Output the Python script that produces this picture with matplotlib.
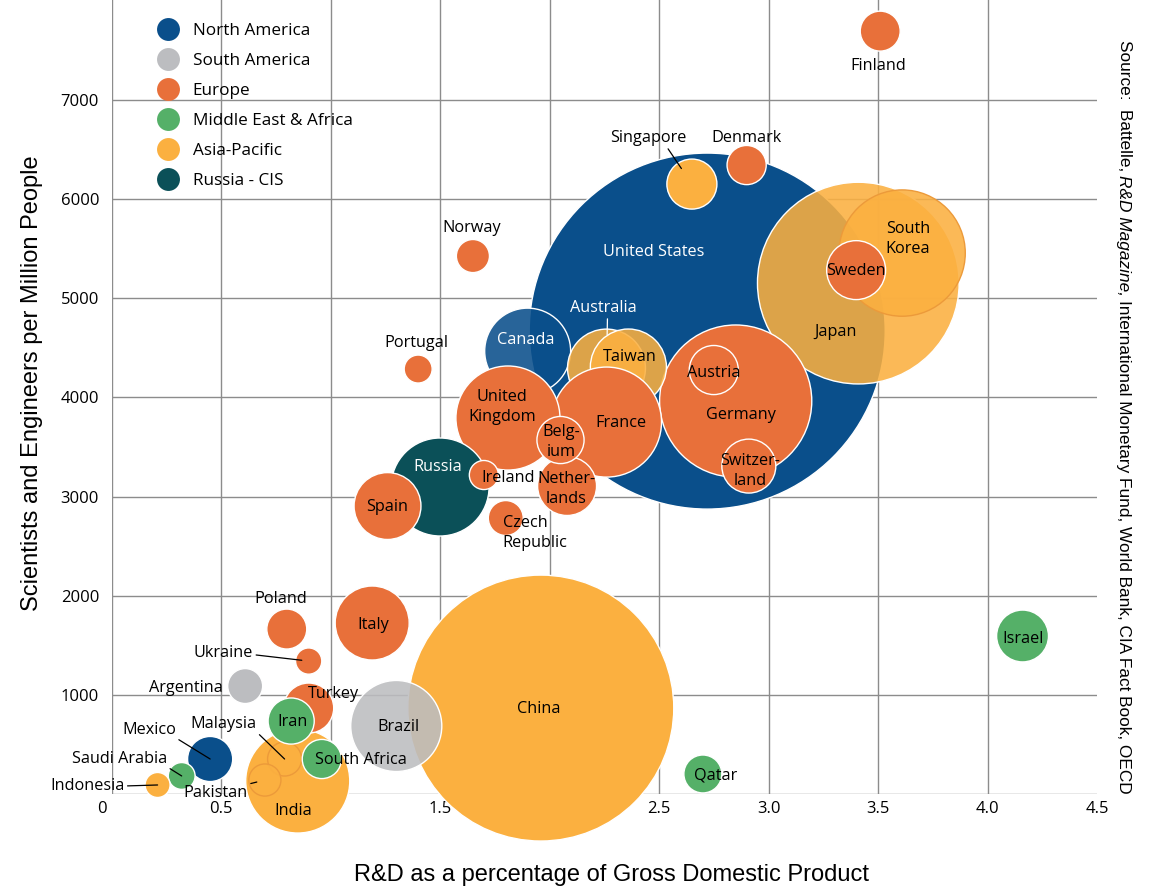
import matplotlib
matplotlib.use("Agg")
import numpy as np
import matplotlib.pyplot as plt
from matplotlib.colors import to_rgba
from matplotlib.lines import Line2D

plt.rcParams["font.family"] = ["Open Sans", "DejaVu Sans"]

# data, listed in drawing order (back to front)
countries = ["United States", "China", "Japan", "Germany", "South Korea", "Canada",
             "Australia", "Taiwan", "France", "United Kingdom", "India", "Russia",
             "Brazil", "Italy", "Spain", "Sweden", "Netherlands", "Switzerland",
             "Israel", "Singapore", "Turkey", "Austria", "Belgium", "Malaysia", "Iran",
             "Mexico", "Finland", "Poland", "Denmark", "South Africa", "Qatar",
             "Czech Republic", "Argentina", "Norway", "Pakistan", "Ireland",
             "Portugal", "Saudi Arabia", "Ukraine", "Indonesia"]
rd_pct_gdp = [2.72, 1.96, 3.41, 2.85, 3.61, 1.90, 2.26, 2.36, 2.26, 1.81, 0.85, 1.50,
              1.30, 1.19, 1.26, 3.40, 2.08, 2.91, 4.16, 2.65, 0.90, 2.75, 2.05, 0.79,
              0.82, 0.45, 3.51, 0.80, 2.90, 0.96, 2.70, 1.80, 0.61, 1.65, 0.70, 1.70,
              1.40, 0.32, 0.90, 0.21]
sci_per_million = [4670, 867, 5154, 3964, 5457, 4468, 4297, 4307, 3752, 3793, 131, 3097,
                   686, 1725, 2905, 5285, 3107, 3308, 1594, 6153, 867, 4277, 3571, 353,
                   736, 353, 7696, 1664, 6345, 353, 202, 2784, 1089, 5427, 141, 3218,
                   4287, 182, 1341, 91]
rd_spend = [405, 226, 130, 74, 51, 23.6, 19.4, 18.5, 38.7, 34.6, 34.6, 30.7,
            26.5, 17.5, 14.3, 11.1, 11.1, 9.3, 8.6, 8.0, 8.0, 7.7, 7.1, 3.7,
            6.8, 6.5, 5.1, 5.1, 4.9, 4.9, 4.6, 3.9, 3.9, 3.5, 3.3, 2.7,
            2.5, 2.3, 2.2, 2.0]
region = ["North America", "Asia-Pacific", "Asia-Pacific", "Europe", "Asia-Pacific",
          "North America", "Asia-Pacific", "Asia-Pacific", "Europe", "Europe",
          "Asia-Pacific", "Russia - CIS", "South America", "Europe", "Europe", "Europe",
          "Europe", "Europe", "Middle East & Africa", "Asia-Pacific", "Europe", "Europe",
          "Europe", "Asia-Pacific", "Middle East & Africa", "North America", "Europe",
          "Europe", "Europe", "Middle East & Africa", "Middle East & Africa", "Europe",
          "South America", "Europe", "Asia-Pacific", "Europe", "Europe",
          "Middle East & Africa", "Europe", "Asia-Pacific"]

regions = ["North America", "South America", "Europe", "Middle East & Africa",
           "Asia-Pacific", "Russia - CIS"]
region_colors = {
    "North America": "#0a4f8b",
    "South America": "#bcbdc0",
    "Europe": "#e8703a",
    "Middle East & Africa": "#55b068",
    "Asia-Pacific": "#fbb040",
    "Russia - CIS": "#0b5058",
}

x_ticks = [0, 0.5, 1.0, 1.5, 2.0, 2.5, 3.0, 3.5, 4.0, 4.5]
y_ticks = [0, 1000, 2000, 3000, 4000, 5000, 6000, 7000]

source_parts = [("Source:  Battelle,", "normal"), ("R&D Magazine,", "italic"),
                ("International Monetary Fund, World Bank, CIA Fact Book, OECD", "normal")]

# label layout (pixel offsets from bubble centre)
display_name = {"South Korea": "South\nKorea", "United Kingdom": "United\nKingdom",
                "Netherlands": "Nether-\nlands", "Switzerland": "Switzer-\nland",
                "Belgium": "Belg-\nium", "Czech Republic": "Czech\nRepublic"}
label_offset = {
    "United States": (-54, 81), "China": (-2, 1), "Japan": (-23, -47),
    "Germany": (5, -12), "South Korea": (6, 16), "Canada": (-2, 13),
    "Australia": (-3, 62), "Taiwan": (1, 12), "France": (14, 1),
    "United Kingdom": (-6, 13), "India": (-4, -28), "Russia": (-2, 22),
    "Brazil": (2, 1), "Italy": (1, 0), "Spain": (0, 1), "Sweden": (0, 1),
    "Netherlands": (-1, -1), "Switzerland": (1, -3), "Israel": (1, -1),
    "Singapore": (-44, 48), "Turkey": (25, 16), "Austria": (0, -1),
    "Belgium": (1, 0), "Malaysia": (-61, 37), "Iran": (1, 1), "Mexico": (-61, 31),
    "Finland": (-2, -33), "Poland": (-6, 32), "Denmark": (0, 29),
    "South Africa": (39, 1), "Qatar": (13, 0), "Czech Republic": (-3, -13),
    "Argentina": (-59, 0), "Norway": (-1, 30), "Pakistan": (-49, -11),
    "Ireland": (24, -1), "Portugal": (-2, 28), "Saudi Arabia": (-62, 19),
    "Ukraine": (-85, 10), "Indonesia": (-70, 1),
}
# leader lines: relpos on text box, shrink at bubble end (points)
leaders = {
    "Singapore": ((0.74, 0), 13.5), "Australia": ((0.56, 0), 24),
    "Ukraine": ((1, 0.4), 5), "Mexico": ((1, 0), 0), "Malaysia": ((1, 0), 0),
    "Saudi Arabia": ((1, 0), 0), "Indonesia": ((1, 0.5), 0), "Pakistan": ((0.95, 1), 6),
}
white_text = {"United States", "Canada", "Australia", "Russia"}
dark_edge = {"South Korea", "Malaysia", "Pakistan"}
see_through = {"Japan", "South Korea", "Canada", "Australia", "Taiwan", "Brazil",
               "Malaysia", "Pakistan"}

fig = plt.figure(figsize=(11.53, 8.9), dpi=100)
ax = fig.add_axes([111.6 / 1153, 96 / 890, 985.4 / 1153, 794 / 890])
ax.set_xlim(0, 4.5)
ax.set_ylim(0, 8010)
ax.set_axisbelow(True)

# bubble radius in pixels ~ sqrt(spending), US ~178 px
radius_px = 178 * np.sqrt(np.array(rd_spend) / max(rd_spend))
sizes = (2 * radius_px * 0.72) ** 2
colors = [to_rgba(region_colors[r], 0.88 if c in see_through else 1.0)
          for c, r in zip(countries, region)]
edges = ["#ec9a3a" if c in dark_edge else "white" for c in countries]
ax.scatter(rd_pct_gdp, sci_per_million, s=sizes, c=colors,
           edgecolors=edges, linewidths=1.0, clip_on=False, zorder=2)

for i, name in enumerate(countries):
    dx, dy = label_offset[name]
    tc = "white" if name in white_text else "black"
    ha = "left" if name == "Czech Republic" else "center"
    kw = {}
    if name in leaders:
        relpos, shrink = leaders[name]
        kw["arrowprops"] = dict(arrowstyle="-", color=tc, lw=0.9, shrinkA=0,
                                shrinkB=shrink, relpos=relpos)
    ax.annotate(display_name.get(name, name), xy=(rd_pct_gdp[i], sci_per_million[i]),
                xytext=(dx, dy - 2), textcoords="offset pixels", ha=ha, va="center",
                multialignment=ha, fontsize=11.7, color=tc, linespacing=1.35,
                zorder=5, annotation_clip=False, **kw)

ax.set_xticks(x_ticks, labels=["" if v == 0 else f"{v:.1f}" for v in x_ticks])
ax.set_yticks(y_ticks, labels=["" if v == 0 else str(v) for v in y_ticks])
ax.tick_params(axis="both", length=0, labelsize=12)
ax.tick_params(axis="x", pad=5)
ax.tick_params(axis="y", pad=9)
ax.grid(True, color="#8c8c8c", linewidth=1.0)
ax.get_xgridlines()[-1].set_visible(False)
for sp in ax.spines.values():
    sp.set_visible(False)
# the origin label sits a little left of the corner
ax.annotate("0", xy=(0, 0), xytext=(-10, -7), textcoords="offset pixels",
            ha="center", va="top", fontsize=12, zorder=0.5, annotation_clip=False)

ax.set_xlabel("R&D as a percentage of Gross Domestic Product", fontsize=17,
              family="Liberation Sans")
ax.xaxis.set_label_coords(0.507, -0.088)
ax.set_ylabel("Scientists and Engineers per Million People", fontsize=17,
              family="Liberation Sans")
ax.yaxis.set_label_coords(-0.07, 0.518)

handles = [Line2D([], [], marker="o", ls="", markersize=16.5, markeredgewidth=0,
                  color=region_colors[r]) for r in regions]
fig.legend(handles, regions, loc="upper left", bbox_to_anchor=(156 / 1153, 1 - 23 / 890),
           frameon=False, fontsize=12.3, handlelength=1.4, handletextpad=0.75,
           labelspacing=0.82, borderpad=0, borderaxespad=0)

# source note, rotated, pieces stacked top to bottom
y_top = 890 - 40
renderer = fig.canvas.get_renderer()
for txt, style in source_parts:
    t = fig.text(1124 / 1153, y_top / 890, txt, rotation=-90, ha="center", va="top",
                 fontsize=12.4, family="Liberation Sans", style=style)
    bb = t.get_window_extent(renderer)
    y_top = bb.y0 - 4

fig.savefig("out.png", dpi=100)
